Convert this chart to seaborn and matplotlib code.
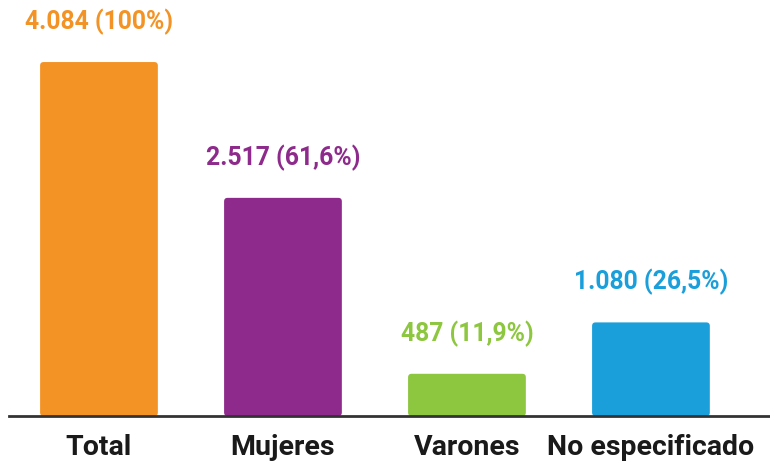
import matplotlib
matplotlib.use("Agg")
import matplotlib.pyplot as plt
from matplotlib.patches import FancyBboxPatch
import seaborn as sns
import pandas as pd

categories = ["Total", "Mujeres", "Varones", "No especificado"]
values = [4084, 2517, 487, 1080]
value_labels = ["4.084 (100%)", "2.517 (61,6%)", "487 (11,9%)", "1.080 (26,5%)"]
colors = ["#F39325", "#8E2A8B", "#8DC63F", "#1B9FDB"]

sns.set_theme(style="white")
plt.rcParams["font.family"] = ["Roboto", "DejaVu Sans"]

df = pd.DataFrame({"cat": categories, "val": values})

fig = plt.figure(figsize=(7.7, 4.62), dpi=100)
ax = fig.add_axes([9/770, 46/462, 761/770, 416/462])
sns.barplot(data=df, x="cat", y="val", hue="cat", palette=colors, width=0.64,
            legend=False, ax=ax, saturation=1)

ax.set_xlim(-0.489, 3.647)
ax.set_ylim(0, 4800)

# round the bar corners slightly (geometry taken from seaborn's bars)
px_x = 761 / (3.647 + 0.489)
px_y = 416 / 4800
r = 3.5
for p in list(ax.patches):
    x, y, w, h = p.get_x(), p.get_y(), p.get_width(), p.get_height()
    fb = FancyBboxPatch((x, y), w, h,
                        boxstyle=f"round,pad=0,rounding_size={r/px_x}",
                        mutation_aspect=(r / px_y) / (r / px_x),
                        facecolor=p.get_facecolor(), edgecolor="none", zorder=p.get_zorder())
    p.remove()
    ax.add_patch(fb)

for s in ["top", "right", "left"]:
    ax.spines[s].set_visible(False)
ax.spines["bottom"].set_color("#333333")
ax.spines["bottom"].set_linewidth(2)
ax.spines["bottom"].set_zorder(5)
ax.set_yticks([])
ax.set_xlabel("")
ax.set_ylabel("")
ax.tick_params(axis="x", length=0, pad=13, labelsize=20.5)
for t in ax.get_xticklabels():
    t.set_fontweight("bold")
    t.set_color("#1a1a1a")

for i, (v, lab, c) in enumerate(zip(values, value_labels, colors)):
    ax.annotate(lab, (i, v), xytext=(0, 29), textcoords="offset points",
                ha="center", va="center", color=c, fontsize=17.8, fontweight="bold")

fig.savefig("out.png", dpi=100)
